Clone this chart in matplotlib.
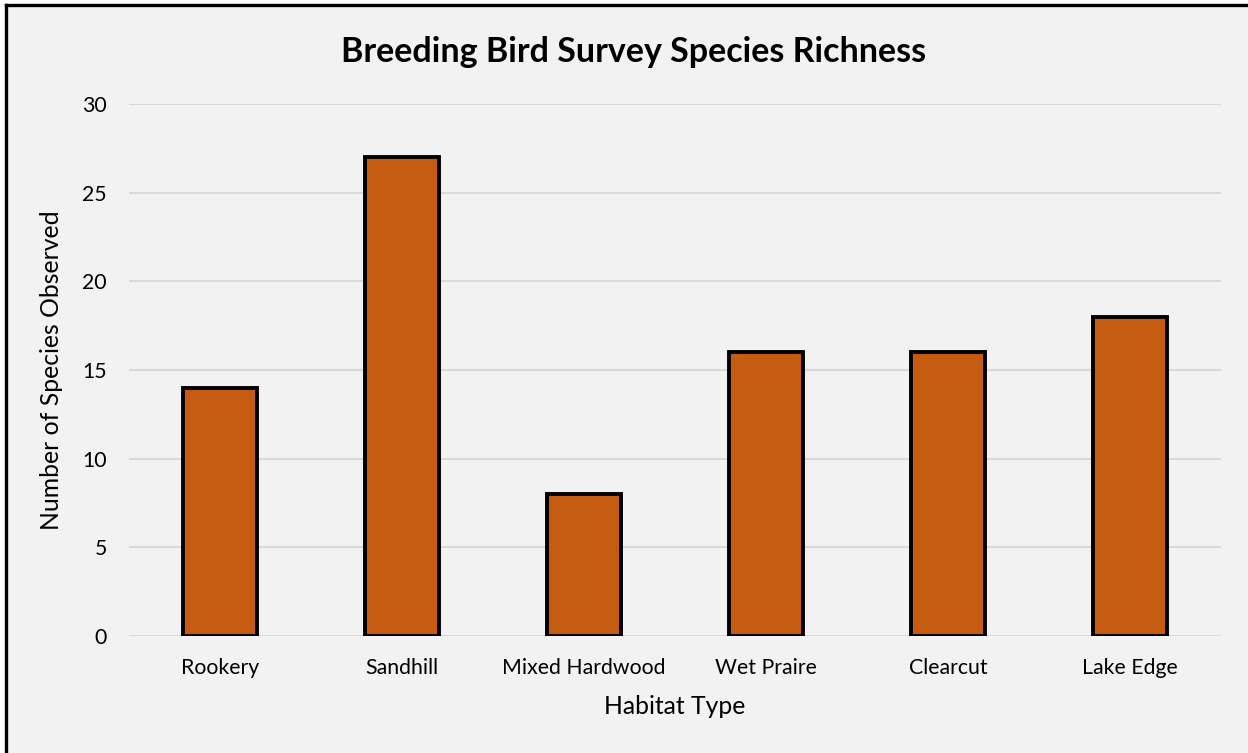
import matplotlib
matplotlib.use("Agg")
import matplotlib.pyplot as plt
from matplotlib.lines import Line2D

habitats = ["Rookery", "Sandhill", "Mixed Hardwood", "Wet Praire", "Clearcut", "Lake Edge"]
species_counts = [14, 27, 8, 16, 16, 18]
y_ticks = [0, 5, 10, 15, 20, 25, 30]

plt.rcParams["font.family"] = ["Lato", "DejaVu Sans"]

bg = "#F2F2F2"
fig = plt.figure(figsize=(12.48, 7.53), dpi=100, facecolor="white")
# chart area background with a dark frame on the left and top
fig.patches.append(plt.Rectangle((6 / 1248, 0), 1, 1 - 5 / 753, transform=fig.transFigure,
                                 facecolor=bg, edgecolor="none", zorder=-5))
fig.add_artist(Line2D([6 / 1248, 6 / 1248], [0, 1 - 5 / 753], color="black", lw=2.4,
                      transform=fig.transFigure, zorder=-4))
fig.add_artist(Line2D([6 / 1248, 1], [1 - 5 / 753, 1 - 5 / 753], color="black", lw=2.4,
                      transform=fig.transFigure, zorder=-4))

ax = fig.add_axes([129 / 1248, 1 - 636 / 753, (1221 - 129) / 1248, (636 - 104) / 753])
ax.set_facecolor(bg)

x = range(len(habitats))
ax.bar(x, species_counts, width=0.41, color="#C55A11", edgecolor="black", linewidth=2.8, zorder=3)

ax.set_xlim(-0.5, len(habitats) - 0.5)
ax.set_ylim(0, 30)
ax.set_yticks(y_ticks)
ax.set_xticks(list(x))
ax.set_xticklabels(habitats)
ax.yaxis.grid(True, color="#D9D9D9", linewidth=1.5, zorder=0)
ax.set_axisbelow(True)
for s in ax.spines.values():
    s.set_visible(False)
ax.tick_params(axis="both", length=0, labelsize=15.3, colors="black")
ax.tick_params(axis="y", pad=16)
ax.tick_params(axis="x", pad=16)

ax.set_xlabel("Habitat Type", fontsize=17.8, labelpad=12)
ax.set_ylabel("Number of Species Observed", fontsize=17.8, labelpad=14)
fig.text(634 / 1248, 1 - 52 / 753, "Breeding Bird Survey Species Richness",
         ha="center", va="center", fontsize=24.5, fontweight="bold")

fig.savefig("out.png", dpi=100, facecolor="white")
